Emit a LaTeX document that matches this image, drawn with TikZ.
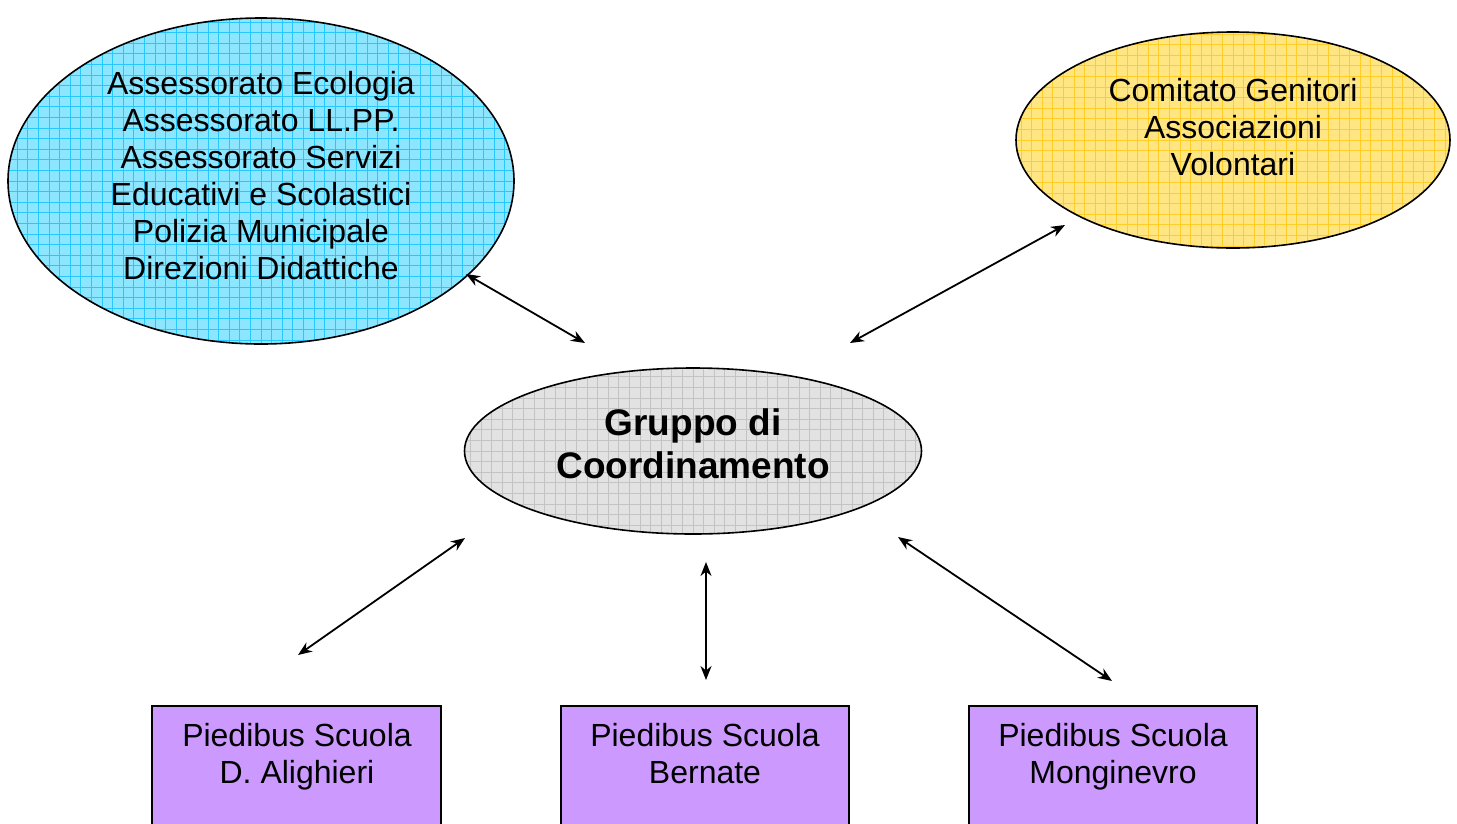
\documentclass[tikz,border=0pt]{standalone}
\usepackage{fontspec}
\setmainfont{Liberation Sans}
\usetikzlibrary{arrows.meta,shapes.geometric}
\definecolor{bluefill}{RGB}{140,230,255}
\definecolor{blueline}{RGB}{40,200,255}
\definecolor{yelfill}{RGB}{255,230,130}
\definecolor{yelline}{RGB}{255,205,40}
\definecolor{grayfill}{RGB}{226,226,226}
\definecolor{grayline}{RGB}{195,195,195}
\definecolor{boxfill}{RGB}{204,153,255}
\begin{document}
\begin{tikzpicture}[x=1pt,y=-1pt,
  txt/.style={font=\fontsize{32}{37}\selectfont, align=center, inner sep=0pt, anchor=north},
  btxt/.style={font=\bfseries\fontsize{37}{43}\selectfont, align=center, inner sep=0pt, anchor=north},
  oval/.style={ellipse, draw=black, line width=1.6pt, inner sep=0pt},
  gridfill/.style 2 args={fill=#1, path picture={\draw[#2, line width=0.8pt] (path picture bounding box.south west) grid[step=10.6pt] (path picture bounding box.north east);}},
  schoolbox/.style={draw=black, line width=1.6pt, fill=boxfill},
  arr/.style={{Stealth[length=14pt,width=11pt,inset=4.5pt]}-{Stealth[length=14pt,width=11pt,inset=4.5pt]}, line width=1.8pt}
]
\clip (0,0) rectangle (1457,823);
\fill[white] (0,0) rectangle (1457,823);

% ellipses
\node[oval, gridfill={bluefill}{blueline}, minimum width=506pt, minimum height=326pt] (ass) at (261,181) {};
\node[oval, gridfill={yelfill}{yelline}, minimum width=434pt, minimum height=216pt] (gen) at (1233,140) {};
\node[oval, gridfill={grayfill}{grayline}, minimum width=457pt, minimum height=166pt] (grp) at (693,451) {};

\node[txt] (asst) at (261,71) {Assessorato Ecologia\\Assessorato LL.PP.\\Assessorato Servizi\\Educativi e Scolastici\\Polizia Municipale\\Direzioni Didattiche};
\node[txt] (gent) at (1233,78) {Comitato Genitori\\Associazioni\\Volontari};
\node[btxt] (grpt) at (693,408) {Gruppo di\\Coordinamento};

% boxes
\draw[schoolbox] (152,706) rectangle (441,840);
\draw[schoolbox] (561,706) rectangle (849,840);
\draw[schoolbox] (969,706) rectangle (1257,840);
\node[txt] (s1) at (297,723) {Piedibus Scuola\\D. Alighieri};
\node[txt] (s2) at (705,723) {Piedibus Scuola\\Bernate};
\node[txt] (s3) at (1113,723) {Piedibus Scuola\\Monginevro};

% connector end points
\coordinate (a1) at (466,274); \coordinate (a2) at (585,343);
\coordinate (b1) at (850,343); \coordinate (b2) at (1065,225);
\coordinate (c1) at (465,538); \coordinate (c2) at (298,655);
\coordinate (d1) at (706,562); \coordinate (d2) at (706,680);
\coordinate (e1) at (898,537); \coordinate (e2) at (1112,681);

\draw[arr] (a1) -- (a2);
\draw[arr] (b1) -- (b2);
\draw[arr] (c1) -- (c2);
\draw[arr] (d1) -- (d2);
\draw[arr] (e1) -- (e2);
\end{tikzpicture}
\end{document}
